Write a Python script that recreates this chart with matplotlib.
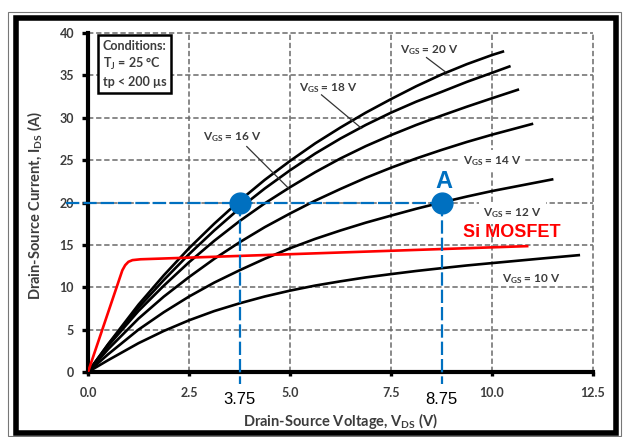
import matplotlib.pyplot as plt
from matplotlib.patches import Rectangle

plt.rcParams['mathtext.fontset'] = 'custom'
plt.rcParams['mathtext.rm'] = 'Lato:bold'
plt.rcParams['mathtext.it'] = 'Lato:bold'
plt.rcParams['mathtext.bf'] = 'Lato:bold'

# ---- data ----
vds_pts = [0, 0.5, 1.25, 1.875, 2.5, 3.125, 3.75, 4.375, 5.0, 5.625,
           6.25, 6.875, 7.5, 8.125, 8.75, 9.375, 10.0]

vgs20_x = vds_pts + [10.3]
vgs20_y = [0, 3.3, 7.95, 11.4, 14.6, 17.5, 20.2, 22.67, 24.9, 26.98,
           28.85, 30.6, 32.2, 33.72, 35.1, 36.32, 37.4, 37.85]

vgs18_x = vds_pts + [10.46]
vgs18_y = [0, 3.25, 7.6, 10.85, 13.9, 16.7, 19.3, 21.65, 23.8, 25.78,
           27.55, 29.15, 30.6, 31.9, 33.05, 34.23, 35.3, 36.1]

vgs16_x = vds_pts + [10.67]
vgs16_y = [0, 3.1, 7.2, 10.18, 12.95, 15.48, 17.8, 19.9, 21.8, 23.58,
           25.2, 26.65, 27.95, 29.15, 30.25, 31.3, 32.3, 33.35]

vgs14_x = vds_pts + [11.02]
vgs14_y = [0, 2.7, 6.3, 8.89, 11.2, 13.35, 15.3, 17.09, 18.7, 20.22,
           21.6, 22.91, 24.1, 25.2, 26.2, 27.14, 28.0, 29.3]

vgs12_x = vds_pts + [11.52]
vgs12_y = [0, 2.1, 5.0, 7.05, 8.9, 10.55, 12.0, 13.36, 14.6, 15.71,
           16.7, 17.62, 18.45, 19.26, 20.0, 20.7, 21.35, 22.75]

vgs10_x = vds_pts + [11.25, 12.18]
vgs10_y = [0, 1.4, 3.4, 4.84, 6.1, 7.19, 8.1, 8.91, 9.6, 10.2,
           10.7, 11.16, 11.55, 11.92, 12.25, 12.57, 12.85, 13.4, 13.8]

si_x = [0, 0.85, 0.92, 1.0, 1.1, 1.3, 10.87]
si_y = [0, 12.0, 12.6, 13.0, 13.2, 13.3, 14.85]

curves = [(vgs20_x, vgs20_y), (vgs18_x, vgs18_y), (vgs16_x, vgs16_y),
          (vgs14_x, vgs14_y), (vgs12_x, vgs12_y), (vgs10_x, vgs10_y)]

point_x = [3.75, 8.75]
point_y = [20, 20]

x_ticks = [0.0, 2.5, 5.0, 7.5, 10.0, 12.5]
y_ticks = [0, 5, 10, 15, 20, 25, 30, 35, 40]

txt = '#3c3c3c'
blue = '#0070C0'

fig = plt.figure(figsize=(6.23, 4.37), dpi=100)
W, H = 623, 437
ax = fig.add_axes([88 / W, 1 - 372 / H, 505 / W, 339 / H])

# grid
for gx in x_ticks[1:]:
    ax.axvline(gx, color='#6a6a6a', lw=1.1, dashes=(3.5, 1.8), zorder=1, clip_on=False)
for gy in y_ticks[1:]:
    ax.axhline(gy, color='#6a6a6a', lw=1.1, dashes=(3.5, 1.8), zorder=1, clip_on=False)

for cx, cy in curves:
    ax.plot(cx, cy, color='black', lw=1.9, solid_capstyle='butt',
            solid_joinstyle='round', zorder=3)

ax.plot(si_x, si_y, color='#ff0000', lw=1.9, solid_joinstyle='round', zorder=4)

# blue guide lines and points
ax.plot([-0.55, point_x[1]], [20, 20], color=blue, lw=1.6, dashes=(6, 1.8),
        clip_on=False, zorder=5)
for px in point_x:
    ax.plot([px, px], [20, -1.4], color=blue, lw=1.6, dashes=(6, 1.8),
            clip_on=False, zorder=5)
    ax.text(px, -3.2, f'{px:.2f}', ha='center', va='center', fontsize=12,
            family='Liberation Sans', color='black')
ax.plot(point_x, point_y, 'o', color=blue, ms=15, zorder=6, clip_on=False)
ax.text(8.81, 22.5, 'A', ha='center', va='center', fontsize=17,
        family='Liberation Sans', fontweight='bold', color=blue)
ax.text(10.5, 16.5, 'Si MOSFET', ha='center', va='center', fontsize=13,
        family='Liberation Sans', fontweight='bold', color='#ff0000')

# curve labels
lab = dict(fontsize=8.5, family='Lato', fontweight='bold', color=txt,
           ha='center', va='center', zorder=7)
ax.text(8.44, 38.0, r'V$_{\mathrm{GS}}$ = 20 V', **lab)
ax.text(5.94, 33.5, r'V$_{\mathrm{GS}}$ = 18 V', **lab)
ax.text(3.58, 27.7, r'V$_{\mathrm{GS}}$ = 16 V', **lab)
ax.text(10.0, 24.9, r'V$_{\mathrm{GS}}$ = 14 V',
        bbox=dict(facecolor='white', edgecolor='none', pad=3), **lab)
ax.text(10.5, 18.8, r'V$_{\mathrm{GS}}$ = 12 V',
        bbox=dict(facecolor='white', edgecolor='none', pad=3), **lab)
ax.text(10.97, 11.0, r'V$_{\mathrm{GS}}$ = 10 V', **lab)

ax.plot([8.38, 8.85], [37.1, 35.4], color='#333333', lw=0.9, zorder=7)
ax.plot([5.78, 6.77], [32.7, 28.75], color='#333333', lw=0.9, zorder=7)
ax.plot([3.93, 4.96], [26.6, 21.7], color='#333333', lw=0.9, zorder=7)

# conditions box
ax.text(0.36, 39.2,
        'Conditions:\nT$_{\\mathrm{J}}$ = 25 °C\ntp < 200 µs',
        ha='left', va='top', fontsize=9, family='Lato', fontweight='bold',
        color=txt, linespacing=1.35, zorder=8,
        bbox=dict(facecolor='white', edgecolor='black', lw=1.8,
                  boxstyle='square,pad=0.4'))

ax.set_xlim(0, 12.5)
ax.set_ylim(0, 40)
ax.set_xticks(x_ticks)
ax.set_yticks(y_ticks)
ax.set_xticklabels([f'{v:.1f}' for v in x_ticks])
ax.set_yticklabels([str(v) for v in y_ticks])
for lbl in ax.get_xticklabels() + ax.get_yticklabels():
    lbl.set_family('Lato')
    lbl.set_fontweight('bold')
    lbl.set_fontsize(9)
    lbl.set_color(txt)
ax.tick_params(axis='y', direction='out', length=4, width=2.4, pad=6)
ax.tick_params(axis='x', direction='out', length=3, width=2.4, pad=8)

for s in ['top', 'right']:
    ax.spines[s].set_visible(False)
for s in ['left', 'bottom']:
    ax.spines[s].set_linewidth(3)

ax.set_xlabel(r'Drain-Source Voltage, V$_{\mathrm{DS}}$ (V)', family='Lato',
              fontweight='bold', fontsize=10.5, color=txt)
ax.set_ylabel(r'Drain-Source Current, I$_{\mathrm{DS}}$ (A)', family='Lato',
              fontweight='bold', fontsize=10.5, color=txt)
ax.xaxis.set_label_coords(0.5, -0.115)
ax.yaxis.set_label_coords(-0.088, 0.49)

# outer frame
fig.add_artist(Rectangle((7.5 / W, 1 - 435.5 / H), 613.5 / W, 423.5 / H,
                         transform=fig.transFigure, fill=False,
                         edgecolor='#777777', lw=0.8))
fig.add_artist(Rectangle((15.5 / W, 1 - 432.5 / H), 600.5 / W, 414.5 / H,
                         transform=fig.transFigure, fill=False,
                         edgecolor='black', lw=4))

fig.savefig('out.png', dpi=100)
